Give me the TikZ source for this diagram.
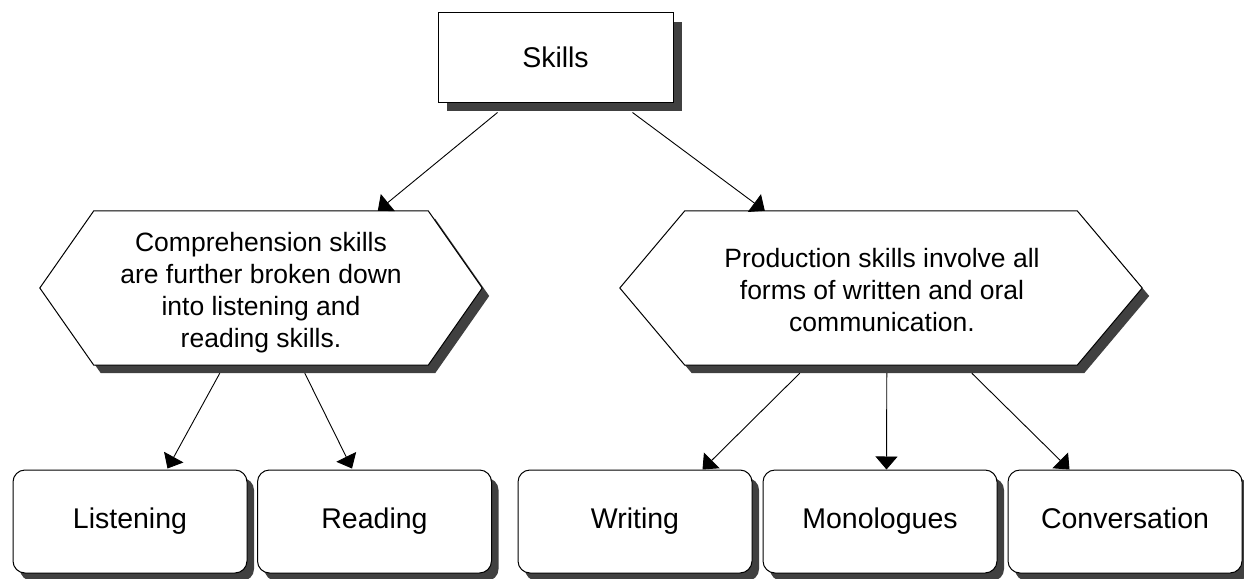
\documentclass[tikz,border=0pt]{standalone}
\usepackage{fontspec}
\setmainfont{Liberation Sans}
\usetikzlibrary{shadows,calc,arrows.meta,backgrounds}
\definecolor{shadowgray}{RGB}{64,64,64}
\begin{document}
\begin{tikzpicture}[x=1pt,y=-1pt,
  shad/.style={drop shadow={shadow xshift=7pt,shadow yshift=-8pt,fill=shadowgray,opacity=1}},
  topbox/.style={draw=black,line width=1pt,fill=white,minimum width=235pt,minimum height=89pt,
    font=\fontsize{28.5}{32}\selectfont,text height=26pt,text depth=6pt,
    drop shadow={shadow xshift=9pt,shadow yshift=-9pt,fill=shadowgray,opacity=1}},
  leafbox/.style={draw=black,line width=1pt,fill=white,rounded corners=12pt,
    minimum width=234pt,minimum height=103pt,font=\fontsize{28.5}{32}\selectfont,
    text height=20.5pt,text depth=6pt,shad},
  hextext/.style={draw=none,minimum height=154pt,align=center,
    font=\fontsize{26.5}{32}\selectfont,inner sep=0pt},
  hexshape/.style={draw=black,line width=1pt,fill=white,shad},
  conn/.style={draw=black,line width=0.9pt,-{Triangle[width=22pt,length=13pt]}}
]
\useasboundingbox (0,0) rectangle (1244,578);

% nodes
\node[topbox] (skills) at (555.5,57.5) {Skills};
\node[hextext,minimum width=442pt] (lhex) at (261,288) {};
\node[font=\fontsize{26.5}{32}\selectfont,align=center,inner sep=0pt] (ltext) at (261,293)
  {Comprehension skills\\are further broken down\\into listening and\\reading skills.};
\node[hextext,minimum width=522pt] (rhex) at (881,288) {};
\node[font=\fontsize{26.5}{32}\selectfont,align=center,inner sep=0pt] (rtext) at (882,290)
  {Production skills involve all\\forms of written and oral\\communication.};
\node[leafbox] (listen) at (130,521.5) {Listening};
\node[leafbox] (read) at (374.5,521.5) {Reading};
\node[leafbox] (write) at (635,521.5) {Writing};
\node[leafbox] (mono) at (880,521.5) {Monologues};
\node[leafbox] (conv) at (1125,521.5) {Conversation};

% hexagon outlines
\begin{scope}[on background layer]
\path[hexshape] (lhex.west) -- ($(lhex.north west)+(54,0)$) -- ($(lhex.north east)+(-54,0)$)
  -- (lhex.east) -- ($(lhex.south east)+(-54,0)$) -- ($(lhex.south west)+(54,0)$) -- cycle;
\path[hexshape] (rhex.west) -- ($(rhex.north west)+(65,0)$) -- ($(rhex.north east)+(-65,0)$)
  -- (rhex.east) -- ($(rhex.south east)+(-65,0)$) -- ($(rhex.south west)+(65,0)$) -- cycle;
\end{scope}

% connectors
\draw[conn] ($(skills.south west)+(60,10)$) -- ($(lhex.north west)+(338,0)$);
\draw[conn] ($(skills.south west)+(195,10)$) -- ($(rhex.north west)+(145,0)$);
\draw[conn] ($(lhex.south west)+(180,8)$) -- ($(listen.north west)+(155,-1)$);
\draw[conn] ($(lhex.south west)+(265,8)$) -- ($(read.north west)+(95,-1)$);
\draw[conn] ($(rhex.south west)+(180,8)$) -- ($(write.north west)+(185,0)$);
\draw[conn] ($(rhex.south west)+(267,8)$) -- ($(mono.north west)+(124,0)$);
\draw[conn] ($(rhex.south west)+(352,8)$) -- ($(conv.north west)+(62,0)$);
\end{tikzpicture}
\end{document}
